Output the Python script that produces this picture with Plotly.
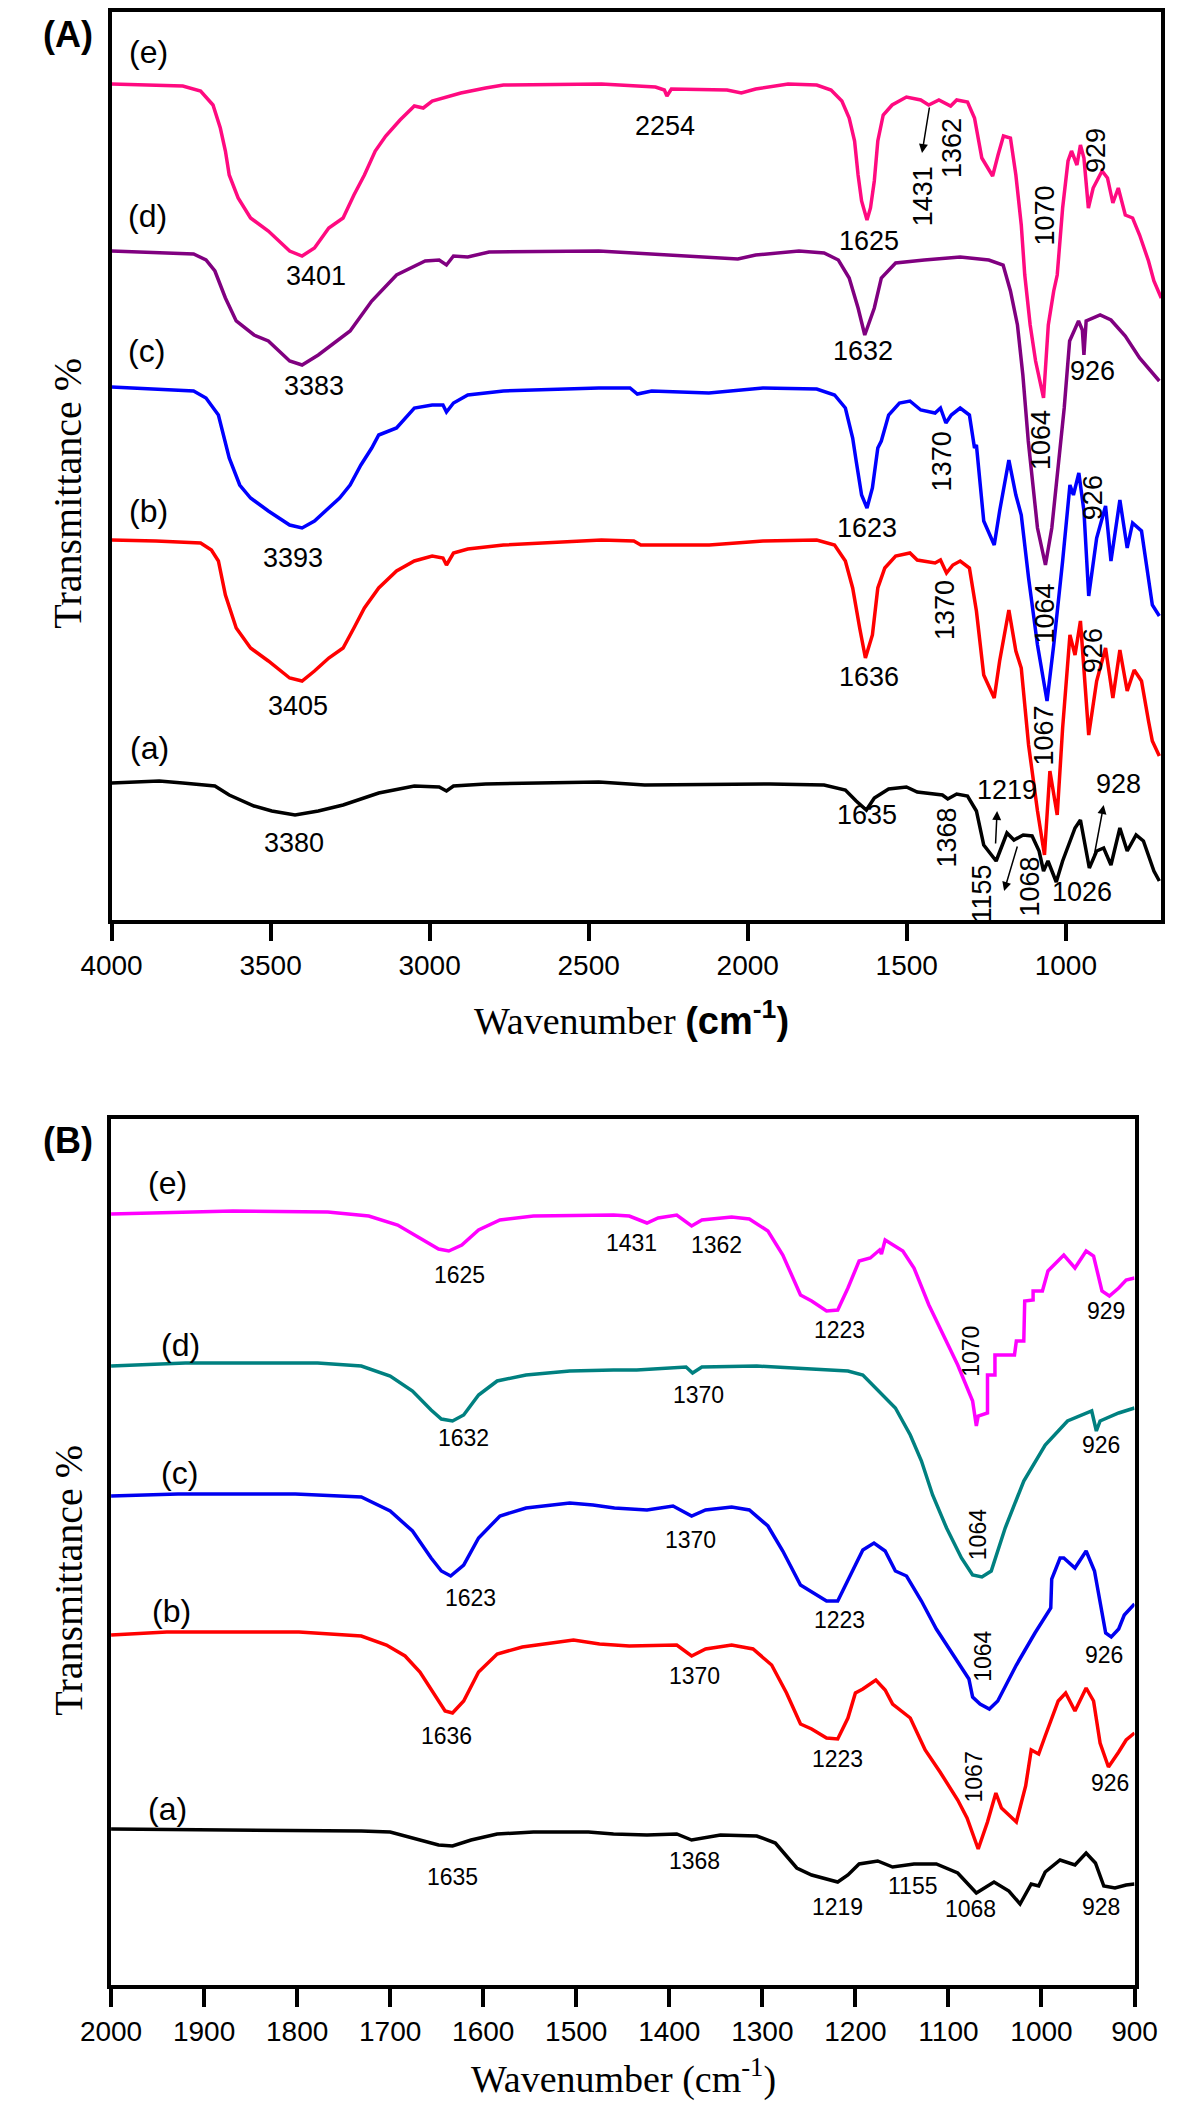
import plotly.graph_objects as go

W, H = 1181, 2109

# ---------- Panel (A): 4000-700 cm-1, transmittance in arbitrary units ----------
A_E = [(4000, 83.6), (3776, 83.4), (3720, 82.9), (3681, 81.5), (3658, 79.2), (3642, 76.9), (3630, 74.5),
       (3602, 72.2), (3563, 70.2), (3507, 68.9), (3440, 66.9), (3401, 66.4), (3362, 67.2), (3317, 69.2),
       (3272, 70.2), (3238, 72.5), (3205, 74.5), (3171, 76.9), (3138, 78.4), (3093, 80.0), (3048, 81.4),
       (3020, 81.2), (2992, 81.9), (2902, 82.7), (2824, 83.2), (2768, 83.5), (2460, 83.6), (2290, 83.3),
       (2262, 83.0), (2254, 82.4), (2240, 83.1), (2065, 83.0), (2020, 82.7), (1975, 83.1), (1873, 83.6),
       (1783, 83.5), (1738, 83.0), (1704, 81.9), (1681, 80.2), (1664, 77.9), (1653, 74.5), (1642, 71.9),
       (1625, 70.0), (1614, 71.2), (1602, 73.9), (1591, 77.9), (1574, 80.5), (1546, 81.5), (1501, 82.3),
       (1456, 82.0), (1431, 81.5), (1399, 82.0), (1362, 81.4), (1343, 82.0), (1309, 81.8), (1287, 80.2),
       (1264, 76.2), (1230, 74.4), (1213, 76.5), (1196, 78.4), (1174, 78.2), (1157, 74.5), (1140, 69.5),
       (1129, 64.5), (1112, 59.5), (1095, 55.9), (1070, 52.2), (1055, 59.5), (1038, 62.9), (1027, 64.5),
       (1010, 71.2), (993, 75.9), (982, 76.9), (965, 75.5), (954, 77.5), (943, 76.2), (929, 71.2),
       (914, 73.2), (886, 74.9), (869, 74.2), (852, 71.7), (835, 73.2), (813, 70.5), (790, 70.2),
       (768, 68.5), (740, 65.9), (723, 63.9), (700, 62.2)]

A_D = [(4000, 66.9), (3742, 66.6), (3703, 66.0), (3675, 64.9), (3642, 62.2), (3608, 59.9), (3552, 58.5),
       (3507, 57.9), (3440, 55.9), (3401, 55.5), (3350, 56.5), (3294, 57.9), (3250, 58.9), (3182, 61.9),
       (3104, 64.5), (3014, 65.9), (2970, 66.0), (2947, 65.5), (2925, 66.4), (2880, 66.3), (2813, 66.8),
       (2468, 66.9), (2234, 66.5), (2031, 66.1), (1975, 66.5), (1839, 66.9), (1760, 66.7), (1715, 66.0),
       (1681, 64.2), (1653, 61.2), (1632, 58.5), (1602, 61.2), (1580, 64.2), (1535, 65.7), (1445, 66.0),
       (1332, 66.3), (1242, 66.0), (1197, 65.5), (1174, 62.9), (1152, 59.5), (1135, 54.5), (1118, 47.9),
       (1089, 39.2), (1064, 35.5), (1044, 39.2), (1005, 51.2), (988, 57.9), (960, 59.9), (948, 59.0),
       (943, 56.5), (936, 59.9), (892, 60.5), (858, 60.0), (813, 58.4), (768, 56.2), (706, 53.9)]

A_C = [(4000, 53.3), (3742, 52.9), (3703, 52.2), (3664, 50.5), (3630, 46.2), (3597, 43.5), (3563, 42.2),
       (3507, 40.9), (3440, 39.5), (3401, 39.2), (3362, 39.9), (3317, 41.2), (3283, 42.2), (3250, 43.5),
       (3216, 45.5), (3182, 47.2), (3160, 48.5), (3104, 49.2), (3048, 51.2), (2992, 51.5), (2958, 51.5),
       (2947, 50.8), (2925, 51.7), (2880, 52.5), (2768, 52.9), (2468, 53.2), (2370, 53.2), (2347, 52.6),
       (2302, 52.9), (2122, 52.7), (1952, 53.2), (1783, 53.1), (1727, 52.5), (1693, 51.2), (1670, 48.2),
       (1659, 45.9), (1642, 42.5), (1625, 41.2), (1608, 43.2), (1591, 47.2), (1580, 47.9), (1557, 50.5),
       (1523, 51.7), (1490, 51.9), (1456, 51.0), (1411, 50.7), (1394, 51.2), (1377, 49.7), (1360, 50.5),
       (1332, 51.2), (1303, 50.5), (1287, 47.2), (1281, 47.5), (1258, 39.9), (1225, 37.5), (1208, 40.9),
       (1179, 46.0), (1157, 42.5), (1140, 40.5), (1117, 34.2), (1089, 27.5), (1059, 21.9), (1038, 27.5),
       (1010, 35.9), (987, 43.5), (976, 42.5), (959, 44.7), (943, 40.9), (928, 32.4), (903, 38.2),
       (875, 41.4), (858, 35.9), (830, 42.0), (807, 37.2), (790, 39.7), (762, 38.9), (745, 35.2),
       (728, 31.5), (706, 30.4)]

A_B = [(4000, 38.0), (3860, 37.9), (3720, 37.7), (3686, 37.0), (3664, 35.9), (3642, 32.5), (3608, 29.2),
       (3563, 27.2), (3507, 25.9), (3440, 24.2), (3401, 23.9), (3362, 24.9), (3317, 26.2), (3272, 27.2),
       (3238, 29.2), (3205, 31.2), (3160, 33.2), (3104, 34.9), (3048, 35.9), (2992, 36.4), (2958, 36.2),
       (2947, 35.5), (2925, 36.7), (2880, 37.1), (2768, 37.5), (2460, 38.0), (2358, 37.9), (2336, 37.5),
       (2121, 37.5), (1952, 37.9), (1783, 38.0), (1727, 37.5), (1693, 35.9), (1670, 33.2), (1648, 29.2),
       (1630, 26.2), (1608, 28.5), (1591, 33.2), (1569, 35.2), (1535, 36.4), (1490, 36.7), (1467, 36.0),
       (1411, 35.7), (1394, 36.0), (1375, 34.7), (1355, 35.5), (1332, 35.9), (1303, 35.2), (1281, 30.9),
       (1258, 24.5), (1225, 22.2), (1208, 25.9), (1179, 31.0), (1157, 26.9), (1140, 25.2), (1117, 17.5),
       (1089, 10.9), (1067, 6.5), (1050, 14.9), (1027, 10.5), (1010, 19.2), (987, 28.5), (971, 26.5),
       (954, 29.9), (928, 18.5), (903, 23.9), (875, 27.2), (852, 22.2), (830, 27.0), (807, 22.9),
       (785, 25.0), (762, 23.9), (740, 19.9), (728, 17.9), (706, 16.4)]

A_A = [(4000, 13.7), (3850, 13.9), (3776, 13.7), (3675, 13.4), (3630, 12.5), (3552, 11.4), (3496, 10.9),
       (3423, 10.5), (3350, 10.9), (3272, 11.5), (3160, 12.7), (3048, 13.4), (2970, 13.3), (2947, 12.9),
       (2925, 13.4), (2824, 13.6), (2468, 13.8), (2324, 13.5), (1930, 13.6), (1760, 13.5), (1693, 13.0),
       (1659, 11.9), (1627, 11.0), (1602, 12.2), (1557, 13.1), (1501, 13.3), (1467, 12.8), (1388, 12.5),
       (1371, 12.1), (1343, 12.6), (1309, 12.4), (1281, 10.9), (1258, 7.5), (1219, 5.9), (1185, 8.7),
       (1163, 8.0), (1134, 8.5), (1106, 8.4), (1084, 6.9), (1070, 4.9), (1056, 5.9), (1030, 3.8),
       (1010, 5.9), (987, 7.9), (971, 9.2), (954, 10.0), (926, 5.2), (903, 6.9), (881, 7.2), (858, 5.5),
       (830, 9.2), (807, 6.9), (779, 8.5), (756, 7.9), (723, 4.9), (706, 3.9)]

# ---------- Panel (B): 2000-900 cm-1 ----------
B_E = [(2000, 77.1), (1869, 77.4), (1767, 77.3), (1723, 76.9), (1692, 76.0), (1668, 74.7), (1648, 73.6),
       (1637, 73.4), (1623, 74.0), (1605, 75.5), (1582, 76.5), (1546, 76.9), (1487, 77.0), (1460, 77.0),
       (1443, 76.9), (1424, 76.2), (1412, 76.7), (1392, 77.0), (1376, 75.9), (1365, 76.5), (1333, 76.8),
       (1314, 76.6), (1294, 75.4), (1278, 73.0), (1259, 69.0), (1247, 68.4), (1231, 67.4), (1219, 67.5),
       (1208, 69.7), (1196, 72.4), (1184, 72.7), (1174, 73.5), (1172, 73.1), (1168, 74.5), (1149, 73.4),
       (1137, 71.7), (1121, 68.0), (1105, 65.0), (1090, 62.0), (1074, 58.4), (1070, 55.9), (1068, 56.9),
       (1058, 57.2), (1058, 61.0), (1050, 61.0), (1050, 63.0), (1029, 63.0), (1027, 64.4), (1019, 64.4),
       (1018, 68.4), (1009, 68.5), (1009, 69.4), (999, 69.4), (993, 71.4), (976, 73.0), (964, 71.7),
       (952, 73.4), (944, 72.9), (935, 69.4), (927, 68.9), (917, 69.7), (909, 70.5), (900, 70.7)]

B_D = [(2000, 61.9), (1920, 62.2), (1778, 62.2), (1731, 61.9), (1700, 60.9), (1676, 59.4), (1656, 57.5),
       (1645, 56.6), (1633, 56.4), (1621, 57.0), (1605, 59.0), (1585, 60.4), (1554, 61.0), (1507, 61.4),
       (1460, 61.5), (1435, 61.5), (1382, 61.8), (1375, 61.2), (1365, 61.8), (1306, 61.9), (1247, 61.6),
       (1208, 61.4), (1192, 61.0), (1176, 59.5), (1157, 57.7), (1141, 55.0), (1129, 52.4), (1117, 49.0),
       (1102, 45.7), (1086, 42.7), (1074, 41.0), (1064, 40.8), (1054, 41.4), (1039, 45.7), (1019, 50.4),
       (996, 54.0), (972, 56.4), (946, 57.4), (941, 55.4), (937, 56.4), (917, 57.2), (900, 57.7)]

B_C = [(2000, 48.9), (1928, 49.1), (1802, 49.1), (1731, 48.8), (1700, 47.4), (1676, 45.4), (1656, 42.7),
       (1645, 41.4), (1635, 40.9), (1621, 42.0), (1605, 44.7), (1582, 46.9), (1554, 47.7), (1507, 48.2),
       (1482, 48.0), (1459, 47.7), (1424, 47.5), (1396, 47.9), (1376, 46.9), (1361, 47.5), (1333, 47.8),
       (1314, 47.5), (1294, 45.9), (1278, 43.4), (1259, 40.0), (1247, 39.3), (1231, 38.4), (1219, 38.4),
       (1208, 40.6), (1200, 42.0), (1192, 43.5), (1180, 44.2), (1168, 43.4), (1157, 41.4), (1145, 40.9),
       (1129, 38.4), (1113, 35.6), (1090, 32.4), (1078, 30.6), (1074, 28.8), (1066, 28.1), (1056, 27.6),
       (1047, 28.4), (1027, 32.0), (1007, 35.2), (990, 37.7), (989, 40.6), (980, 42.7), (976, 42.7),
       (964, 41.7), (952, 43.4), (943, 41.4), (931, 35.2), (925, 34.8), (917, 35.6), (911, 37.0), (900, 38.1)]

B_B = [(2000, 35.0), (1940, 35.3), (1798, 35.3), (1731, 34.9), (1704, 34.0), (1684, 32.9), (1668, 31.3),
       (1652, 29.0), (1641, 27.4), (1633, 27.2), (1621, 28.4), (1605, 31.3), (1585, 33.1), (1558, 33.8),
       (1503, 34.5), (1475, 34.1), (1460, 34.0), (1443, 33.9), (1392, 34.0), (1376, 32.9), (1361, 33.6),
       (1333, 34.0), (1310, 33.6), (1290, 32.0), (1274, 29.2), (1259, 26.1), (1247, 25.6), (1231, 24.7),
       (1219, 24.6), (1208, 26.7), (1200, 29.2), (1192, 29.6), (1178, 30.5), (1168, 29.5), (1160, 28.1),
       (1141, 26.7), (1125, 23.5), (1109, 21.3), (1090, 18.5), (1080, 16.7), (1068, 13.6), (1058, 16.3),
       (1049, 19.2), (1043, 17.7), (1027, 16.3), (1017, 19.9), (1011, 23.5), (1003, 23.1), (996, 24.9),
       (982, 28.4), (974, 29.2), (964, 27.4), (952, 29.7), (944, 28.4), (937, 24.2), (928, 21.8),
       (917, 23.3), (909, 24.5), (900, 25.2)]

B_A = [(2000, 15.6), (1771, 15.5), (1731, 15.4), (1700, 15.3), (1668, 14.5), (1648, 14.0), (1633, 13.9),
       (1613, 14.5), (1585, 15.1), (1546, 15.3), (1487, 15.3), (1460, 15.1), (1424, 15.0), (1392, 15.1),
       (1376, 14.5), (1345, 15.0), (1306, 14.9), (1286, 14.2), (1263, 11.7), (1247, 11.0), (1219, 10.3),
       (1208, 11.0), (1196, 12.1), (1176, 12.4), (1160, 11.8), (1137, 12.1), (1113, 12.1), (1090, 11.2),
       (1070, 9.2), (1051, 10.3), (1035, 9.4), (1023, 8.1), (1011, 10.1), (1003, 9.9), (996, 11.3),
       (980, 12.5), (964, 12.0), (952, 13.2), (942, 12.2), (933, 9.9), (921, 9.7), (909, 10.0), (900, 10.1)]

SERIES_A = [("(a)", A_A, "#000000"), ("(b)", A_B, "#ff0000"), ("(c)", A_C, "#0000ff"),
            ("(d)", A_D, "#800080"), ("(e)", A_E, "#ff0a80")]
SERIES_B = [("(a)", B_A, "#000000"), ("(b)", B_B, "#ff0000"), ("(c)", B_C, "#0000f0"),
            ("(d)", B_D, "#008080"), ("(e)", B_E, "#ff00ff")]

# curve tags (text, wavenumber, T)
TAGS_A = [("(e)", 3883, 86.8), ("(d)", 3887, 70.4), ("(c)", 3891, 56.9), ("(b)", 3883, 40.9), ("(a)", 3880, 17.2)]
TAGS_B = [("(e)", 1939, 80.2), ("(d)", 1925, 64.0), ("(c)", 1926, 51.2), ("(b)", 1935, 37.4), ("(a)", 1939, 17.6)]

# peak labels (text, wavenumber, T, angle)
PEAKS_A = [("3401", 3356, 64.4, 0), ("3383", 3362, 53.4, 0), ("3393", 3429, 36.2, 0), ("3405", 3415, 21.4, 0),
           ("3380", 3427, 7.7, 0), ("2254", 2259, 79.4, 0), ("1625", 1619, 67.9, 0), ("1632", 1636, 56.9, 0),
           ("1623", 1625, 39.2, 0), ("1636", 1619, 24.3, 0), ("1635", 1625, 10.5, 0), ("926", 917, 54.9, 0),
           ("1219", 1185, 13.0, 0), ("928", 835, 13.6, 0), ("1026", 950, 2.8, 0),
           ("1431", 1448, 72.4, -90), ("1362", 1358, 77.2, -90), ("1070", 1064, 70.5, -90), ("929", 905, 76.9, -90),
           ("1064", 1078, 48.0, -90), ("1370", 1388, 45.9, -90), ("926", 914, 42.2, -90), ("1064", 1064, 30.7, -90),
           ("1370", 1380, 31.0, -90), ("926", 914, 26.9, -90), ("1067", 1067, 18.5, -90), ("1368", 1375, 8.2, -90),
           ("1155", 1262, 2.7, -90), ("1068", 1111, 3.4, -90)]
PEAKS_B = [("1625", 1625, 71.0, 0), ("1632", 1621, 54.7, 0), ("1623", 1614, 38.7, 0), ("1636", 1639, 24.9, 0),
           ("1635", 1633, 10.8, 0), ("1431", 1441, 74.2, 0), ("1362", 1349, 74.0, 0), ("1370", 1369, 59.0, 0),
           ("1370", 1377, 44.5, 0), ("1370", 1373, 30.9, 0), ("1368", 1373, 12.4, 0), ("1223", 1217, 65.5, 0),
           ("1223", 1217, 36.5, 0), ("1223", 1219, 22.6, 0), ("1219", 1219, 7.8, 0), ("1155", 1139, 9.9, 0),
           ("1068", 1076, 7.6, 0), ("928", 936.5, 7.8, 0), ("929", 931, 67.4, 0), ("926", 936.5, 54.0, 0),
           ("926", 932.6, 33.0, 0), ("926", 926.7, 20.2, 0),
           ("1070", 1076, 63.4, -90), ("1064", 1068, 45.0, -90), ("1064", 1063, 32.9, -90), ("1067", 1072, 20.8, -90)]

# arrows in panel A (head wn, head T, tail wn, tail T)
ARROWS_A = [(1452, 76.7, 1428, 81.4), (1216, 10.9, 1221, 7.5), (1194, 2.9, 1151, 7.5), (881, 11.5, 914, 5.9)]

SANS = "Liberation Sans, Arial, sans-serif"
SERIF = "Liberation Serif, Times New Roman, serif"
BLACK = "#000000"

fig = go.Figure()
for name, pts, col in SERIES_A:
    fig.add_trace(go.Scatter(x=[p[0] for p in pts], y=[p[1] for p in pts], mode="lines", name=name,
                             line=dict(color=col, width=3.5), xaxis="x", yaxis="y", showlegend=False))
for name, pts, col in SERIES_B:
    fig.add_trace(go.Scatter(x=[p[0] for p in pts], y=[p[1] for p in pts], mode="lines", name=name,
                             line=dict(color=col, width=3.5), xaxis="x2", yaxis="y2", showlegend=False))

ann = []
for txt, x, y in TAGS_A:
    ann.append(dict(text=txt, x=x, y=y, xref="x", yref="y", showarrow=False,
                    font=dict(family=SANS, size=32, color=BLACK)))
for txt, x, y in TAGS_B:
    ann.append(dict(text=txt, x=x, y=y, xref="x2", yref="y2", showarrow=False,
                    font=dict(family=SANS, size=32, color=BLACK)))
for txt, x, y, ang in PEAKS_A:
    ann.append(dict(text=txt, x=x, y=y, xref="x", yref="y", showarrow=False, textangle=ang,
                    font=dict(family=SANS, size=27, color=BLACK)))
for txt, x, y, ang in PEAKS_B:
    ann.append(dict(text=txt, x=x, y=y, xref="x2", yref="y2", showarrow=False, textangle=ang,
                    font=dict(family=SANS, size=23, color=BLACK)))
for hx, hy, tx, ty in ARROWS_A:
    ann.append(dict(text="", x=hx, y=hy, ax=tx, ay=ty, xref="x", yref="y", axref="x", ayref="y",
                    showarrow=True, arrowhead=2, arrowsize=1.2, arrowwidth=1.5, arrowcolor=BLACK))


def paper_text(text, px, py, size, family, angle=0):
    return dict(text=text, x=px / W, y=1 - py / H, xref="paper", yref="paper", showarrow=False,
                xanchor="center", yanchor="middle", textangle=angle,
                font=dict(family=family, size=size, color=BLACK))


# panel letters and axis titles
ann += [
    paper_text("<b>(A)</b>", 30, 26, 36, SANS),
    paper_text("<b>(B)</b>", 30, 1132, 36, SANS),
    paper_text("Transmittance %", 30, 485, 40, SERIF, -90),
    paper_text("Transmittance %", 30, 1572, 40, SERIF, -90),
    paper_text("Wavenumber <span style='font-family:Liberation Sans;font-weight:bold'>(cm<sup>-1</sup>)</span>",
               621, 1010, 38, SERIF),
    paper_text("Wavenumber (cm<sup>-1</sup>)", 612, 2068, 38, SERIF),
]

axis_common = dict(showline=True, linewidth=4, linecolor=BLACK, mirror=True, showgrid=False, zeroline=False)

fig.update_layout(
    width=W, height=H,
    margin=dict(l=0, r=0, t=0, b=0),
    paper_bgcolor="white", plot_bgcolor="white",
    font=dict(family=SANS, color=BLACK),
    xaxis=dict(domain=[76 / W, 1176 / W], range=[4000, 700], anchor="y",
               tickvals=[4000, 3500, 3000, 2500, 2000, 1500, 1000], ticks="outside", ticklen=17,
               tickwidth=4, tickcolor=BLACK, tickfont=dict(family=SANS, size=28, color=BLACK),
               **axis_common),
    yaxis=dict(domain=[1 - 912 / H, 1 - 4 / H], range=[0, 90.8], anchor="x",
               showticklabels=False, ticks="", **axis_common),
    xaxis2=dict(domain=[75.5 / W, 1148 / W], range=[2000, 900], anchor="y2", dtick=100,
                ticks="outside", ticklen=18, tickwidth=4, tickcolor=BLACK,
                tickfont=dict(family=SANS, size=28, color=BLACK), **axis_common),
    yaxis2=dict(domain=[1 - 1977 / H, 1 - 1111 / H], range=[0, 86.6], anchor="x2",
                showticklabels=False, ticks="", **axis_common),
    annotations=ann,
)

fig.write_html("out.html")
